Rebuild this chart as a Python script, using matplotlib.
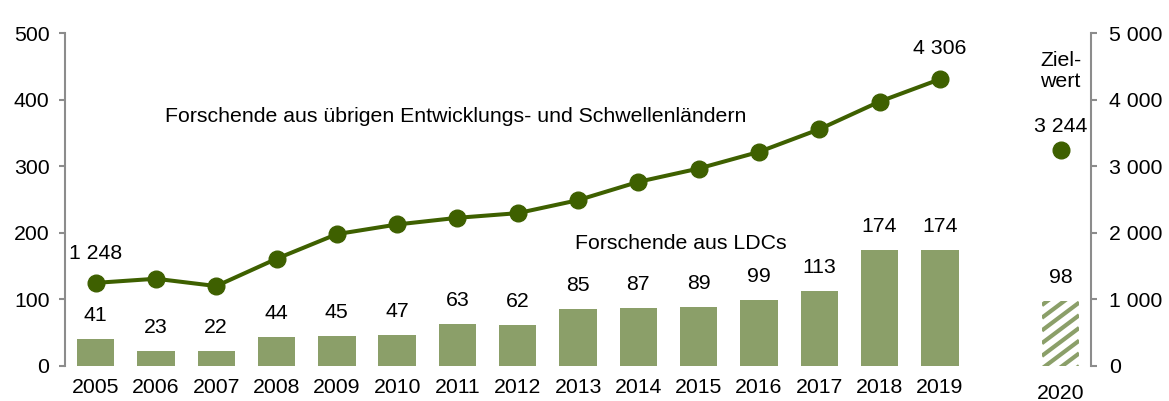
import numpy as np
import matplotlib
matplotlib.use("Agg")
import matplotlib.pyplot as plt
from matplotlib.ticker import FuncFormatter

plt.rcParams['font.family'] = ['Liberation Sans', 'DejaVu Sans']
plt.rcParams['font.size'] = 15.3

# data
years = ['2005', '2006', '2007', '2008', '2009', '2010', '2011', '2012',
         '2013', '2014', '2015', '2016', '2017', '2018', '2019']
ldc = [41, 23, 22, 44, 45, 47, 63, 62, 85, 87, 89, 99, 113, 174, 174]
others = [1248, 1310, 1200, 1610, 1980, 2125, 2225, 2295,
          2490, 2765, 2965, 3215, 3555, 3970, 4306]
target_year = '2020'
target_ldc = 98
target_others = 3244

bar_color = '#8b9f69'
line_color = '#3e6000'
axis_color = '#8c8c8c'

fig = plt.figure(figsize=(11.69, 4.01), dpi=100)
ax = fig.add_axes([0.056, 0.0873, 0.877, 0.8304])
ax2 = ax.twinx()

x = np.arange(len(years))
x_target = len(years) + 1
bw = 0.62

ax.set_xlim(-0.5, x_target + 0.5)
ax.set_ylim(0, 500)
ax2.set_ylim(0, 5000)

# bars (left axis)
ax.bar(x, ldc, width=bw, color=bar_color, zorder=2)
tbar = ax.bar(x_target, target_ldc, width=bw, facecolor='white',
              linewidth=0, zorder=2)[0]

# diagonal stripes for the target bar, drawn in pixel units and clipped to it
ppx = fig.get_figwidth() * fig.dpi * 0.877 / (ax.get_xlim()[1] - ax.get_xlim()[0])
ppy = fig.get_figheight() * fig.dpi * 0.8304 / 500
w_px = bw * ppx
h_px = target_ldc * ppy
slope = 0.75
step = 12.7
x0 = x_target - bw / 2
for c in np.arange(-slope * w_px, h_px + step, step):
    xs = [x0, x0 + bw]
    ys = [c / ppy, (c + slope * w_px) / ppy]
    ln, = ax.plot(xs, ys, color=bar_color, lw=3.0, solid_capstyle='butt', zorder=2.5)
    ln.set_clip_path(tbar)

for xi, v in zip(x, ldc):
    ax.annotate(str(v), (xi, v), xytext=(0, 17), textcoords='offset points',
                ha='center', va='center')
ax.annotate(str(target_ldc), (x_target, target_ldc), xytext=(0, 17),
            textcoords='offset points', ha='center', va='center')

# line (right axis)
ax2.plot(x, others, color=line_color, lw=2.9, marker='o', ms=12, zorder=3)
ax2.plot([x_target], [target_others], color=line_color, marker='o', ms=12,
         linestyle='none', zorder=3)

def fmt(v):
    return f"{v:,.0f}".replace(',', ' ')

ax2.annotate(fmt(others[0]), (x[0], others[0]), xytext=(0, 21),
             textcoords='offset points', ha='center', va='center')
ax2.annotate(fmt(others[-1]), (x[-1], others[-1]), xytext=(0, 22),
             textcoords='offset points', ha='center', va='center')
ax2.annotate(fmt(target_others), (x_target, target_others), xytext=(0, 17),
             textcoords='offset points', ha='center', va='center')
ax2.text(x_target, 4430, 'Ziel-\nwert', ha='center', va='center', linespacing=1.1)

ax2.text(1.15, 3750, 'Forschende aus übrigen Entwicklungs- und Schwellenländern',
         ha='left', va='center')
ax.text(7.95, 184, 'Forschende aus LDCs', ha='left', va='center')

# axes styling
ax.set_yticks(range(0, 501, 100))
ax2.set_yticks(range(0, 5001, 1000))
ax2.yaxis.set_major_formatter(FuncFormatter(lambda v, p: fmt(v)))

ax.set_xticks(x)
ax.set_xticklabels(years)
ax.tick_params(axis='x', length=0, pad=9)
ax.annotate(target_year, (x_target, 0), xycoords=('data', 'axes fraction'),
            xytext=(0, -20), textcoords='offset points', ha='center', va='center')

for a in (ax, ax2):
    for s in ('top', 'bottom'):
        a.spines[s].set_visible(False)
ax.spines['right'].set_visible(False)
ax2.spines['left'].set_visible(False)
ax.spines['left'].set_color(axis_color)
ax2.spines['right'].set_color(axis_color)
ax.spines['left'].set_linewidth(1.5)
ax2.spines['right'].set_linewidth(1.5)
ax.tick_params(axis='y', color=axis_color, width=1.5, length=4.5, pad=7)
ax2.tick_params(axis='y', color=axis_color, width=1.5, length=4.5, pad=9)

fig.savefig('out.png', dpi=100)
